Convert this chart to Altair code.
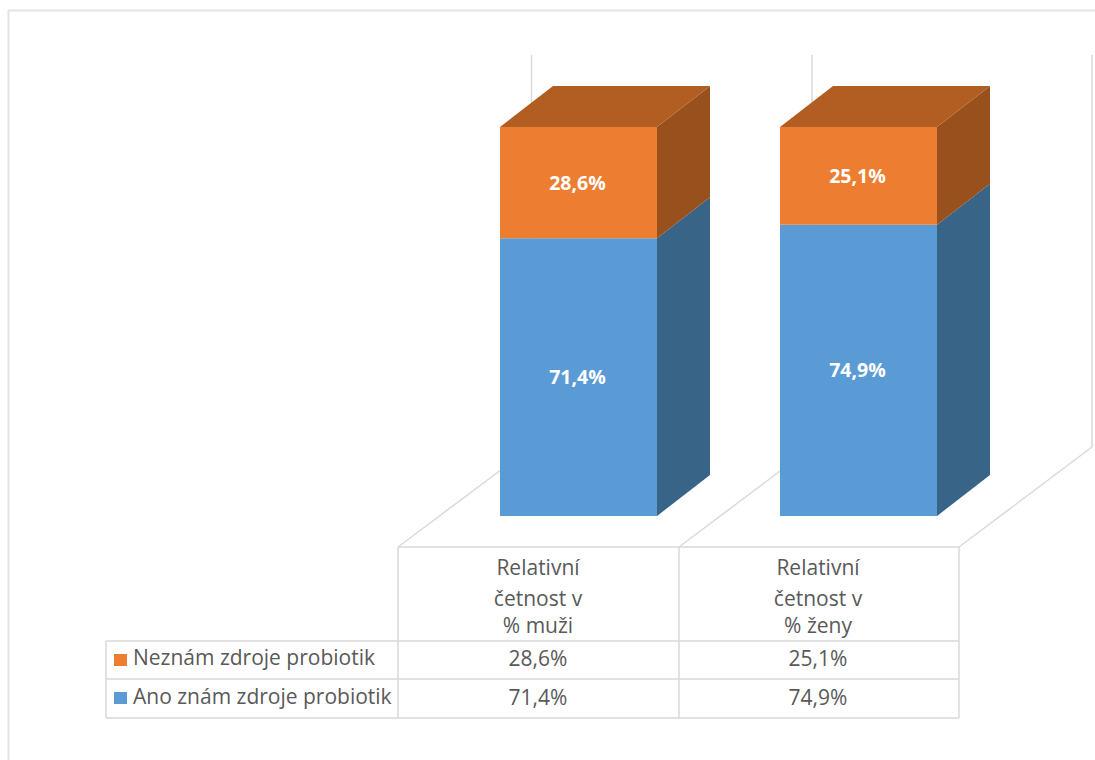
import altair as alt
import pandas as pd

# Chart values
header_lines = [["Relativní", "četnost v", "% muži"], ["Relativní", "četnost v", "% ženy"]]
series_names = ["Ano znám zdroje probiotik", "Neznám zdroje probiotik"]
ano_values = [71.4, 74.9]
neznam_values = [28.6, 25.1]

FRONT = {"ano": "#5B9BD5", "ne": "#ED7D31"}
SIDE = {"ano": "#386488", "ne": "#98501C"}
TOP_FACE = "#B25D22"
GRID = "#D9D9D9"
FRAME = "#E3E3E3"
TEXT = "#595959"
FONT = "Open Sans"

W, H = 1095, 760
STEP = 280.0           # pixels between neighbouring categories
PX_PER_PCT = 3.89      # pixels per percentage point
BAR_X0, BASE_Y = 578.5, 516.0
HALF_BAR = 78.5 / STEP
DEPTH_X = 53.0 / STEP
DEPTH_Y = 41.0 / PX_PER_PCT

x_scale = alt.Scale(domain=[-BAR_X0 / STEP, (W - BAR_X0) / STEP], range=[0, W], nice=False, zero=False)
y_scale = alt.Scale(domain=[(BASE_Y - H) / PX_PER_PCT, BASE_Y / PX_PER_PCT], range=[H, 0], nice=False, zero=False)


def X(field):
    return alt.X(field, type="quantitative", scale=x_scale, axis=None)


def Y(field):
    return alt.Y(field, type="quantitative", scale=y_scale, axis=None)


def px(channel, field):
    # Layout elements are placed straight on the canvas
    return channel(field, type="quantitative", scale=None, axis=None)


# Stacked segments
segments = []
for i, (a, n) in enumerate(zip(ano_values, neznam_values)):
    segments.append(dict(slot=i, part="ano", lo=0.0, hi=a, val=a, fill=FRONT["ano"]))
    segments.append(dict(slot=i, part="ne", lo=a, hi=a + n, val=n, fill=FRONT["ne"]))
seg = pd.DataFrame(segments)
seg["x0"] = seg["slot"] - HALF_BAR
seg["x1"] = seg["slot"] + HALF_BAR
seg["mid"] = (seg["lo"] + seg["hi"]) / 2
seg["label"] = seg["val"].map(lambda v: f"{v:.1f}%".replace(".", ","))

# Side faces: parallelograms running back from the right edge of each segment
side_rows = []
for s in seg.to_dict("records"):
    sid = f"{s['slot']}-{s['part']}"
    shade = SIDE[s["part"]]
    side_rows.append(dict(id=sid, fill=shade, x=s["x1"], y=s["hi"], y2=s["lo"]))
    side_rows.append(dict(id=sid, fill=shade, x=s["x1"] + DEPTH_X, y=s["hi"] + DEPTH_Y, y2=s["lo"] + DEPTH_Y))
side = pd.DataFrame(side_rows)

# Top face of every column
top_rows = []
for s in seg[seg["part"] == "ne"].to_dict("records"):
    t, d = s["hi"], s["hi"] + DEPTH_Y
    top_rows += [
        dict(id=s["slot"], x=s["x0"], y=t, y2=t),
        dict(id=s["slot"], x=s["x0"] + DEPTH_X, y=d, y2=t),
        dict(id=s["slot"], x=s["x1"], y=d, y2=t),
        dict(id=s["slot"], x=s["x1"] + DEPTH_X, y=d, y2=d),
    ]
top = pd.DataFrame(top_rows)

# Frame, back wall, floor and data-table lines (canvas pixels)
frame = pd.DataFrame([
    dict(x=8, x2=1095, y=10.5, y2=10.5),
    dict(x=8.5, x2=8.5, y=10, y2=760),
])
lines = pd.DataFrame([
    dict(x=531.5, x2=531.5, y=55, y2=447),
    dict(x=812, x2=812, y=55, y2=447),
    dict(x=1092, x2=1092, y=55, y2=447),
    dict(x=398, x2=531.5, y=547, y2=447),
    dict(x=679, x2=812, y=547, y2=447),
    dict(x=959, x2=1092, y=547, y2=447),
    dict(x=398, x2=959, y=547, y2=547),
    dict(x=106, x2=959, y=641, y2=641),
    dict(x=106, x2=959, y=679, y2=679),
    dict(x=106, x2=959, y=718, y2=718),
    dict(x=106, x2=106, y=641, y2=718),
    dict(x=398, x2=398, y=547, y2=718),
    dict(x=679, x2=679, y=547, y2=718),
    dict(x=959, x2=959, y=547, y2=718),
])

# Table text
header_y = [569, 599.5, 626.5]
col_x = [538, 818]
row_y = {"ne": 660, "ano": 699}
cells = []
for c, column in enumerate(header_lines):
    for ly, txt in zip(header_y, column):
        cells.append(dict(x=col_x[c], y=ly, t=txt))
    cells.append(dict(x=col_x[c], y=row_y["ne"], t=f"{neznam_values[c]:.1f}%".replace(".", ",")))
    cells.append(dict(x=col_x[c], y=row_y["ano"], t=f"{ano_values[c]:.1f}%".replace(".", ",")))
cells = pd.DataFrame(cells)

row_labels = pd.DataFrame([
    dict(x=133, y=row_y["ano"] - 1, t=series_names[0]),
    dict(x=133, y=row_y["ne"] - 1, t=series_names[1]),
])
swatches = pd.DataFrame([
    dict(x=114, x2=127, y=654, y2=666, fill=FRONT["ne"]),
    dict(x=114, x2=127, y=692, y2=704, fill=FRONT["ano"]),
])


def rules(df, color, width):
    return alt.Chart(df).mark_rule(color=color, strokeWidth=width).encode(
        x=px(alt.X, "x"), x2="x2", y=px(alt.Y, "y"), y2="y2"
    )


direct_fill = alt.Color("fill:N", scale=None)

layers = [
    rules(frame, FRAME, 2),
    rules(lines, GRID, 1.5),
    alt.Chart(side).mark_area(interpolate="linear", opacity=1).encode(
        x=X("x"), y=Y("y"), y2="y2", detail="id:N", color=direct_fill,
    ),
    alt.Chart(top).mark_area(interpolate="linear", color=TOP_FACE, opacity=1).encode(
        x=X("x"), y=Y("y"), y2="y2", detail="id:N",
    ),
    alt.Chart(seg).mark_rect().encode(
        x=X("x0"), x2="x1", y=Y("lo"), y2="hi", color=direct_fill,
    ),
    alt.Chart(seg).mark_text(color="white", fontWeight="bold", font=FONT, fontSize=19.5, dx=-1, dy=1).encode(
        x=X("slot"), y=Y("mid"), text="label:N"
    ),
    alt.Chart(swatches).mark_rect().encode(
        x=px(alt.X, "x"), x2="x2", y=px(alt.Y, "y"), y2="y2", color=direct_fill,
    ),
    alt.Chart(cells).mark_text(color=TEXT, font=FONT, fontSize=21).encode(
        x=px(alt.X, "x"), y=px(alt.Y, "y"), text="t:N"
    ),
    alt.Chart(row_labels).mark_text(color=TEXT, font=FONT, fontSize=21, align="left").encode(
        x=px(alt.X, "x"), y=px(alt.Y, "y"), text="t:N"
    ),
]

chart = alt.layer(*layers).properties(
    width=W, height=H, padding=0, background="white",
    autosize=alt.AutoSizeParams(type="none"),
).configure_view(stroke=None)

chart.save("out.html", embed_options={"renderer": "svg", "actions": False})
